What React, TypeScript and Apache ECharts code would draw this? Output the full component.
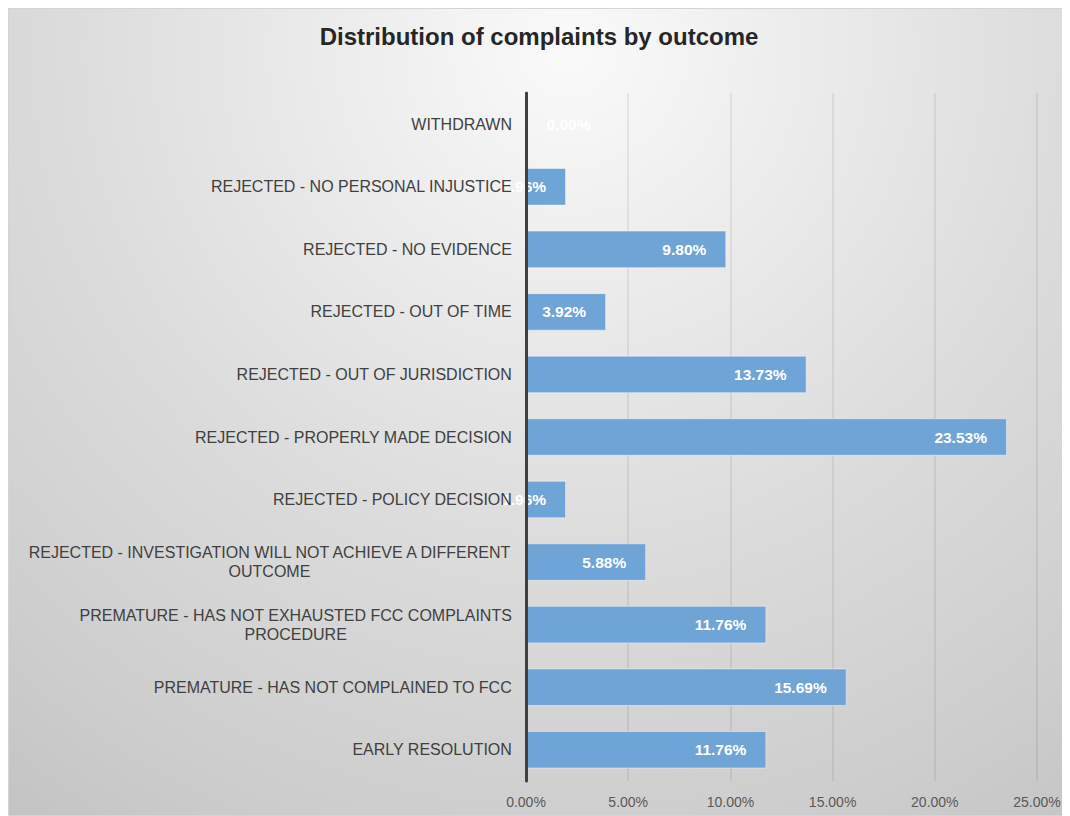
import React, { useEffect, useRef } from "react";
import * as echarts from "echarts";

const categories: string[] = [
  "WITHDRAWN",
  "REJECTED - NO PERSONAL INJUSTICE",
  "REJECTED - NO EVIDENCE",
  "REJECTED - OUT OF TIME",
  "REJECTED - OUT OF JURISDICTION",
  "REJECTED - PROPERLY MADE DECISION",
  "REJECTED - POLICY DECISION",
  "REJECTED - INVESTIGATION WILL NOT ACHIEVE A DIFFERENT OUTCOME",
  "PREMATURE - HAS NOT EXHAUSTED FCC COMPLAINTS PROCEDURE",
  "PREMATURE - HAS NOT COMPLAINED TO FCC",
  "EARLY RESOLUTION",
];

const shares: number[] = [0.0, 1.96, 9.8, 3.92, 13.73, 23.53, 1.96, 5.88, 11.76, 15.69, 11.76];

const xTicks: number[] = [0, 5, 10, 15, 20, 25];

const title = "Distribution of complaints by outcome";

function wrap(text: string, maxChars: number): string[] {
  const words = text.split(" ");
  const lines: string[] = [];
  let cur = "";
  for (const w of words) {
    const next = cur ? cur + " " + w : w;
    if (next.length > maxChars && cur) {
      lines.push(cur);
      cur = w;
    } else {
      cur = next;
    }
  }
  if (cur) lines.push(cur);
  return lines;
}

export default function App() {
  const ref = useRef<HTMLDivElement>(null);
  useEffect(() => {
    if (!ref.current) return;
    const chart = echarts.init(ref.current, null, { renderer: "svg" });
    const W = ref.current.clientWidth;
    const H = ref.current.clientHeight;
    const font = "Liberation Sans, Arial, sans-serif";
    chart.setOption({
      animation: false,
      textStyle: { fontFamily: font },
      graphic: [
        {
          type: "rect",
          z: -100,
          silent: true,
          shape: { x: 0, y: 0, width: W, height: H },
          style: {
            fill: new echarts.graphic.RadialGradient(
              560,
              40,
              1000,
              [
                { offset: 0, color: "#fafafa" },
                { offset: 0.5, color: "#dcdcdc" },
                { offset: 0.8, color: "#cdcdcd" },
                { offset: 1, color: "#c0c0c0" },
              ],
              true
            ),
          },
        },
      ],
      title: {
        text: title,
        left: "center",
        top: 10,
        textStyle: { fontSize: 24, fontWeight: "bold", color: "#262626", fontFamily: font },
      },
      grid: { left: 517, right: 32, top: 84, bottom: 34, containLabel: false },
      xAxis: {
        type: "value",
        min: xTicks[0],
        max: xTicks[xTicks.length - 1],
        interval: xTicks[1] - xTicks[0],
        axisLine: { show: false },
        axisTick: { show: false },
        splitLine: { show: true, lineStyle: { color: "rgba(0,0,0,0.09)", width: 1.5 } },
        axisLabel: {
          margin: 14,
          fontSize: 14,
          color: "#595959",
          fontFamily: font,
          formatter: (v: number) => v.toFixed(2) + "%",
        },
      },
      yAxis: {
        type: "category",
        data: categories,
        inverse: true,
        z: 10,
        axisLine: { show: true, lineStyle: { color: "#404040", width: 3 } },
        axisTick: { show: false },
        axisLabel: {
          interval: 0,
          margin: 14,
          fontSize: 16,
          color: "#404040",
          fontFamily: font,
          formatter: (v: string) =>
            wrap(v, 53)
              .map((l) => `{c|${l}}`)
              .join("\n"),
          rich: {
            c: { align: "center", fontSize: 16, color: "#404040", fontFamily: font, lineHeight: 19 },
          },
        },
      },
      series: [
        {
          type: "bar",
          barCategoryGap: "40%",
          data: shares.map((v) =>
            v === 0 ? { value: v, label: { position: "right", distance: 20 } } : { value: v }
          ),
          itemStyle: { color: "#6fa5d6", borderColor: "rgba(255,255,255,0.45)", borderWidth: 1 },
          label: {
            show: true,
            position: "insideRight",
            distance: 20,
            color: "#ffffff",
            fontWeight: "bold",
            fontSize: 15.5,
            fontFamily: font,
            formatter: (p: any) => Number(p.value).toFixed(2) + "%",
          },
        },
      ],
    });
    return () => chart.dispose();
  }, []);
  return (
    <div
      ref={ref}
      style={{ width: 1062, height: 808, border: "1px solid #d4d4d4", boxSizing: "border-box" }}
    />
  );
}
